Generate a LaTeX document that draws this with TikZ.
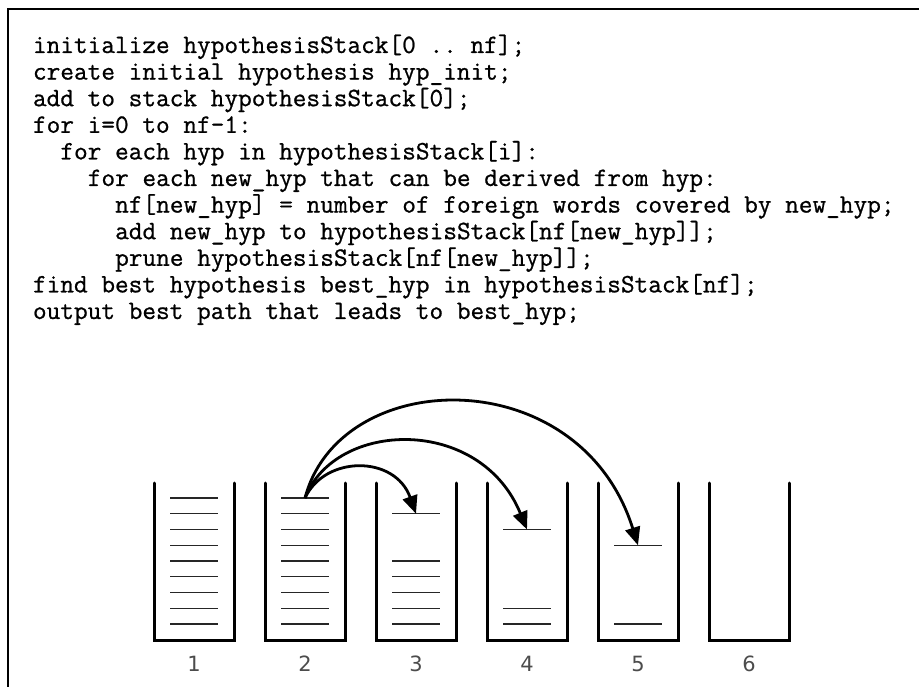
\documentclass[tikz,border=0pt]{standalone}
\usepackage{fontspec}
\setmonofont{Latin Modern Mono}[FakeBold=0.8]
\newfontfamily\digitfont{DejaVu Sans}
\usetikzlibrary{arrows.meta}

\tikzset{
  codeline/.style={anchor=base west, inner sep=0pt, outer sep=0pt,
    font=\ttfamily\fontsize{26.55}{26.6}\selectfont},
  wall/.style={line width=3pt, line cap=round, line join=miter},
  entry/.style={line width=1.2pt, black!85},
  jump/.style={line width=2.8pt, -{Triangle[length=18pt,width=15pt]}},
  stacknum/.style={anchor=base, inner sep=0pt, text=black!70,
    font=\digitfont\fontsize{21}{21}\selectfont},
  frameline/.style={line width=2.6pt, line join=miter}
}

\begin{document}
\begin{tikzpicture}[x=1pt, y=-1pt]
\useasboundingbox (0,0) rectangle (919,687);

% open frame: top and left edges only
\draw[frameline] (8,687) -- (8,9) -- (919,9);

% pseudo-code of the stack decoding algorithm
\node[codeline] (l1)  at (33,53)    {initialize hypothesisStack[0 .. nf];};
\node[codeline] (l2)  at (33,79.6)  {create initial hypothesis hyp\_init;};
\node[codeline] (l3)  at (33,106.2) {add to stack hypothesisStack[0];};
\node[codeline] (l4)  at (33,132.8) {for i=0 to nf-1:};
\node[codeline] (l5)  at (60.4,159.4) {for each hyp in hypothesisStack[i]:};
\node[codeline] (l6)  at (87.8,186)   {for each new\_hyp that can be derived from hyp:};
\node[codeline] (l7)  at (115.2,212.6) {nf[new\_hyp] = number of foreign words covered by new\_hyp;};
\node[codeline] (l8)  at (115.2,239.2) {add new\_hyp to hypothesisStack[nf[new\_hyp]];};
\node[codeline] (l9)  at (115.2,265.8) {prune hypothesisStack[nf[new\_hyp]];};
\node[codeline] (l10) at (33,292.4) {find best hypothesis best\_hyp in hypothesisStack[nf];};
\node[codeline] (l11) at (33,319)   {output best path that leads to best\_hyp;};

% six stacks: walls and number labels
\foreach \i in {1,...,6} {
  \pgfmathsetmacro{\L}{154+111*(\i-1)}
  \draw[wall] (\L,483) -- (\L,640) -- (\L+80,640) -- (\L+80,483);
  \node[stacknum] (n\i) at (\L+40,671) {\i};
}

% hypotheses held in each stack (slot k sits at y = 498 + 15.75 (k-1))
\foreach \s/\slots in {1/{1,2,3,4,5,6,7,8,9}, 2/{1,2,3,4,5,6,7,8,9},
                       3/{2,5,6,7,8,9}, 4/{3,8,9}, 5/{4,9}} {
  \pgfmathsetmacro{\L}{154+111*(\s-1)}
  \foreach \k in \slots {
    \pgfmathsetmacro{\Y}{498+15.75*(\k-1)}
    \draw[entry] (\L+16,\Y) -- (\L+64,\Y);
    \coordinate (h\s-\k) at (\L+40,\Y);
  }
}

% expansions of the best hypothesis in stack 2
\draw[jump] (h2-1) .. controls (325,455) and (395,455) .. (h3-2);
\draw[jump] (h2-1) .. controls (335,420) and (480,415) .. (h4-3);
\draw[jump] (h2-1) .. controls (340,365) and (580,360) .. (h5-4);
\end{tikzpicture}
\end{document}
